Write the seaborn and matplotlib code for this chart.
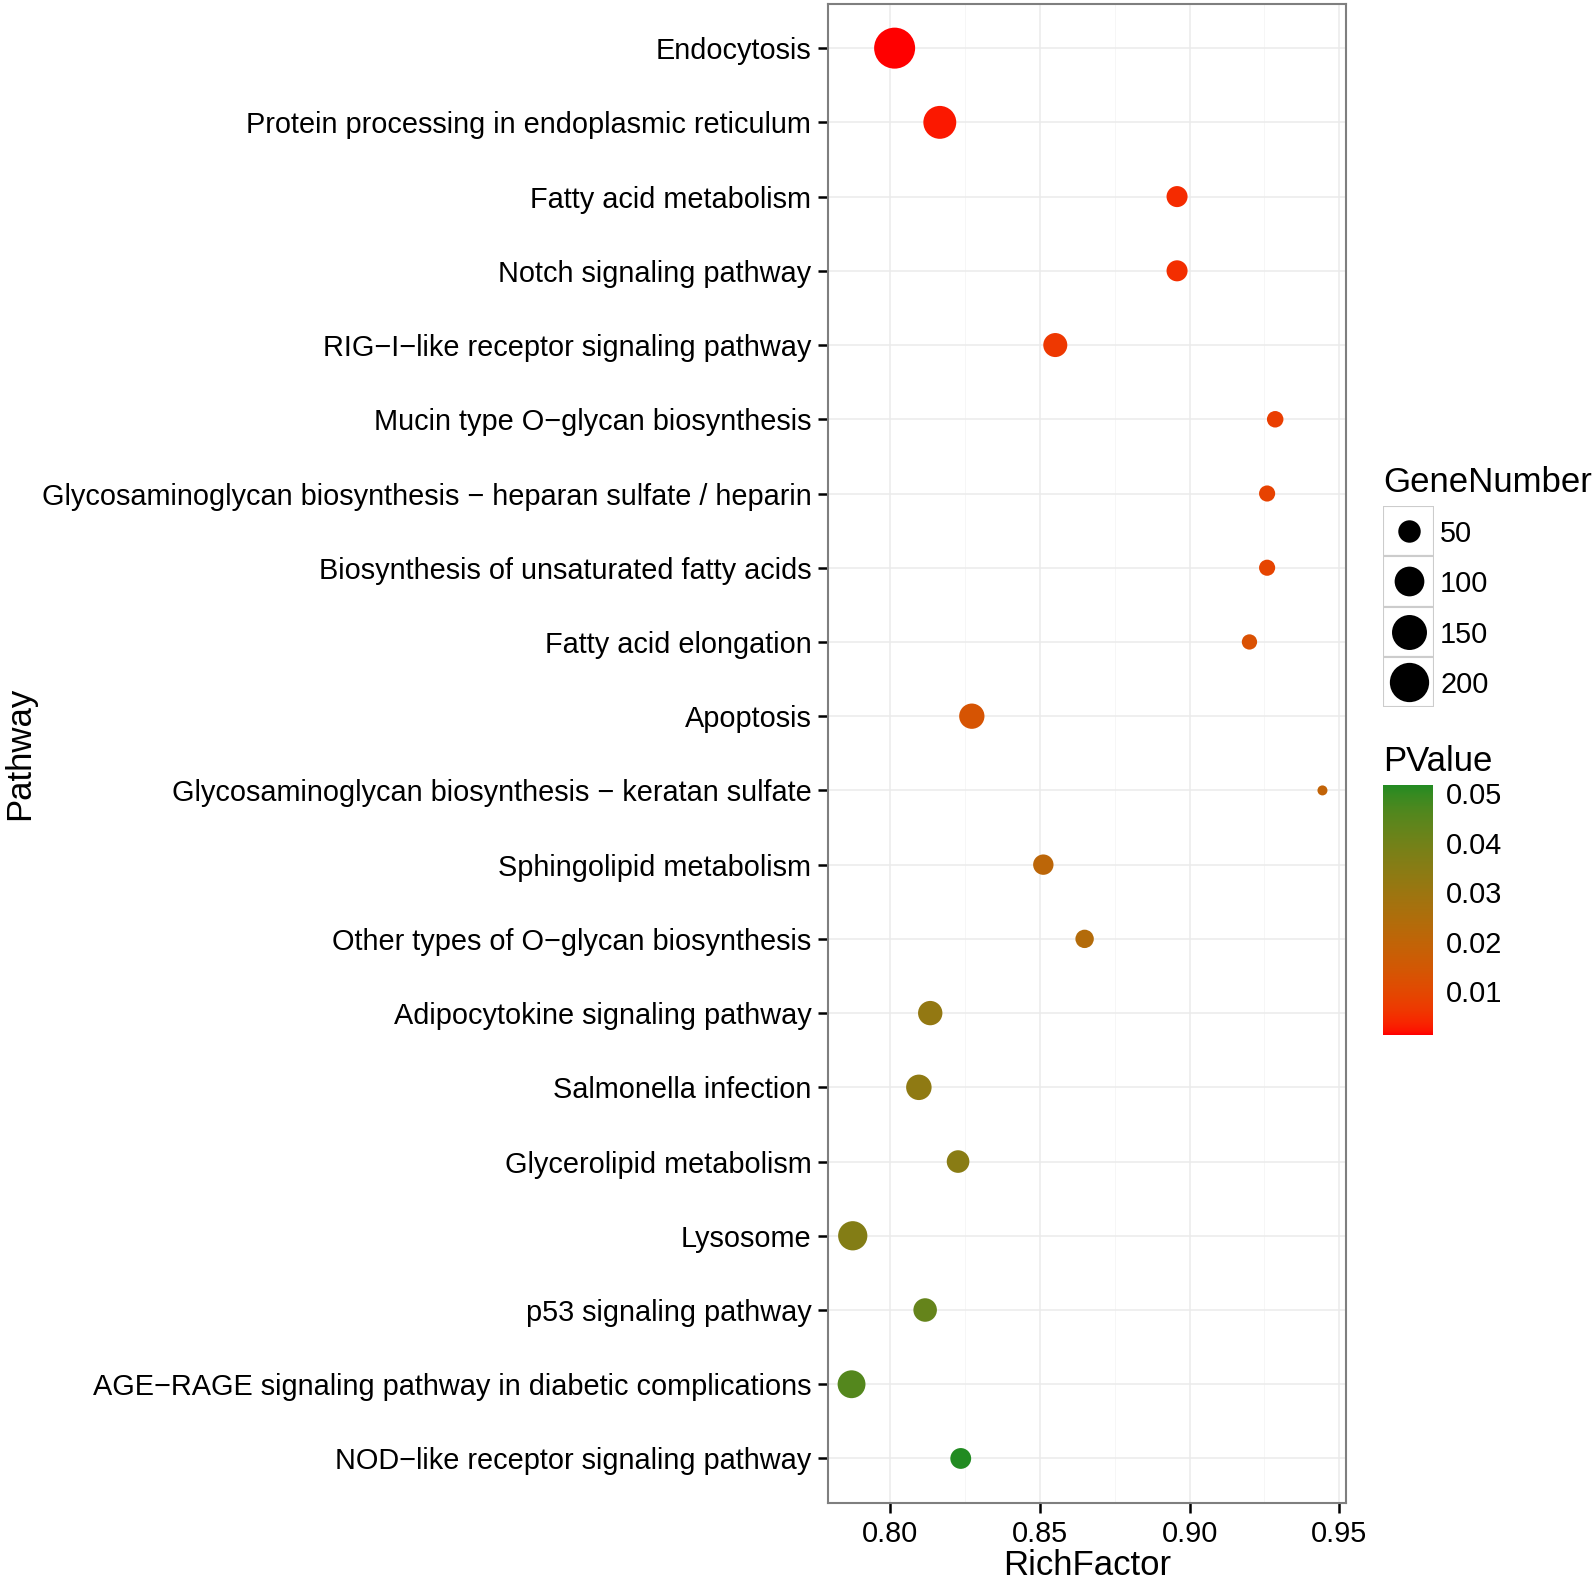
import numpy as np
import pandas as pd
import seaborn as sns
import matplotlib
matplotlib.use("Agg")
import matplotlib.pyplot as plt
from matplotlib.colors import ListedColormap, Normalize, to_rgb
from matplotlib.patches import Rectangle
from matplotlib.ticker import FixedLocator, FormatStrFormatter
from matplotlib.cm import ScalarMappable

# --- data (top row first) ---
pathways = [
    "Endocytosis",
    "Protein processing in endoplasmic reticulum",
    "Fatty acid metabolism",
    "Notch signaling pathway",
    "RIG\u2212I\u2212like receptor signaling pathway",
    "Mucin type O\u2212glycan biosynthesis",
    "Glycosaminoglycan biosynthesis \u2212 heparan sulfate / heparin",
    "Biosynthesis of unsaturated fatty acids",
    "Fatty acid elongation",
    "Apoptosis",
    "Glycosaminoglycan biosynthesis \u2212 keratan sulfate",
    "Sphingolipid metabolism",
    "Other types of O\u2212glycan biosynthesis",
    "Adipocytokine signaling pathway",
    "Salmonella infection",
    "Glycerolipid metabolism",
    "Lysosome",
    "p53 signaling pathway",
    "AGE\u2212RAGE signaling pathway in diabetic complications",
    "NOD\u2212like receptor signaling pathway",
]
rich_factor = [0.8014, 0.8165, 0.8958, 0.8958, 0.8551, 0.9286, 0.9259, 0.9259,
               0.9200, 0.8272, 0.9444, 0.8511, 0.8649, 0.8133, 0.8095, 0.8226,
               0.7874, 0.8116, 0.7870, 0.8235]
gene_number = [222, 129, 43, 43, 59, 26, 25, 25, 23, 67, 17, 40, 32, 61, 68, 51,
               96, 56, 85, 42]
p_value = [0.0012, 0.0025, 0.0045, 0.0048, 0.0065, 0.0075, 0.0085, 0.0090,
           0.0125, 0.0135, 0.0195, 0.0210, 0.0235, 0.0320, 0.0330, 0.0345,
           0.0360, 0.0425, 0.0455, 0.0516]
size_breaks = [50, 100, 150, 200]
pvalue_ticks = [0.01, 0.02, 0.03, 0.04, 0.05]

df = pd.DataFrame({"Pathway": pathways, "RichFactor": rich_factor,
                   "GeneNumber": gene_number, "PValue": p_value})

DPI = 100


# --- red -> green gradient interpolated in Lab (like ggplot) ---
def rgb_to_lab(c):
    c = np.asarray(c, float)
    lin = np.where(c <= 0.04045, c / 12.92, ((c + 0.055) / 1.055) ** 2.4)
    M = np.array([[0.4124, 0.3576, 0.1805], [0.2126, 0.7152, 0.0722], [0.0193, 0.1192, 0.9505]])
    xyz = M @ lin / np.array([0.95047, 1.0, 1.08883])
    f = np.where(xyz > 0.008856, np.cbrt(xyz), (903.3 * xyz + 16) / 116)
    return np.array([116 * f[1] - 16, 500 * (f[0] - f[1]), 200 * (f[1] - f[2])])


def lab_to_rgb(lab):
    L, a, b = lab
    fy = (L + 16) / 116
    fx, fz = fy + a / 500, fy - b / 200
    f = np.array([fx, fy, fz])
    xyz = np.where(f ** 3 > 0.008856, f ** 3, (116 * f - 16) / 903.3) * np.array([0.95047, 1.0, 1.08883])
    Minv = np.array([[3.2406, -1.5372, -0.4986], [-0.9689, 1.8758, 0.0415], [0.0557, -0.2040, 1.0570]])
    lin = Minv @ xyz
    c = np.where(lin <= 0.0031308, 12.92 * lin, 1.055 * np.clip(lin, 0, None) ** (1 / 2.4) - 0.055)
    return np.clip(c, 0, 1)


low, high = rgb_to_lab(to_rgb("#FF0000")), rgb_to_lab(to_rgb("#228B22"))
cmap = ListedColormap([lab_to_rgb(low + t * (high - low)) for t in np.linspace(0, 1, 256)])
norm = Normalize(min(p_value), max(p_value))

gmin, gmax = min(gene_number), max(gene_number)


def marker_area(n):
    # ggplot-style area scale: diameter 10..41 px
    d_px = 10 + 31 * np.sqrt((n - gmin) / (gmax - gmin))
    return (d_px * 72 / DPI) ** 2


sns.set_theme(style="white")
plt.rcParams['font.family'] = ['Liberation Sans', 'DejaVu Sans']
plt.rcParams['text.color'] = 'black'
plt.rcParams['axes.labelcolor'] = 'black'

fig = plt.figure(figsize=(15.94, 15.81), dpi=DPI)
ax = fig.add_axes([828 / 1594, 78 / 1581, 518 / 1594, 1499.4 / 1581])

sns.scatterplot(data=df, x="RichFactor", y="Pathway", hue="PValue", hue_norm=norm,
                palette=cmap, size="GeneNumber",
                sizes={n: marker_area(n) for n in gene_number},
                linewidth=0, legend=False, ax=ax, zorder=3)

lo, hi = min(rich_factor), max(rich_factor)
pad = 0.05 * (hi - lo)
ax.set_xlim(lo - pad, hi + pad)
ax.set_ylim(len(pathways) - 0.4, -0.6)
ax.xaxis.set_major_locator(FixedLocator([0.80, 0.85, 0.90, 0.95]))
ax.xaxis.set_minor_locator(FixedLocator([0.775, 0.825, 0.875, 0.925]))
ax.xaxis.set_major_formatter(FormatStrFormatter("%.2f"))

ax.grid(which="major", color="#EBEBEB", lw=1.1)
ax.grid(which="minor", axis="x", color="#F5F5F5", lw=0.6)
ax.set_axisbelow(True)
for sp in ax.spines.values():
    sp.set_color("#7F7F7F")
    sp.set_linewidth(1.5)

ax.tick_params(axis="both", which="major", bottom=True, left=True, direction="out",
               length=7, width=1.8, color="black", labelsize=20.8, labelcolor="black")
ax.tick_params(axis="x", which="minor", length=0)
ax.tick_params(axis="y", pad=5)
ax.tick_params(axis="x", pad=5)

ax.set_xlabel("RichFactor", fontsize=25)
ax.set_ylabel("Pathway", fontsize=25)
ax.xaxis.set_label_coords(0.5, -0.031)
ax.yaxis.set_label_coords(-1.529, 0.5)

# --- GeneNumber legend ---
fig.text(1383 / 1594, 1 - 483 / 1581, "GeneNumber", fontsize=25, va="center")
lax = fig.add_axes([1383 / 1594, (1581 - 707) / 1581, 51 / 1594, 201 / 1581])
lax.set_xlim(0, 1)
lax.set_ylim(len(size_breaks), 0)
lax.axis("off")
for i, n in enumerate(size_breaks):
    lax.add_patch(Rectangle((0, i), 1, 1, facecolor="white", edgecolor="#CCCCCC", lw=1.5))
    lax.scatter([0.5], [i + 0.5], s=marker_area(n), color="black", linewidth=0, zorder=3)
    lax.text(1.12, i + 0.56, str(n), fontsize=20.8, va="center", ha="left")

# --- PValue colourbar ---
fig.text(1383 / 1594, 1 - 762 / 1581, "PValue", fontsize=25, va="center")
cax = fig.add_axes([1383 / 1594, (1581 - 1035) / 1581, 50 / 1594, 250 / 1581])
cb = fig.colorbar(ScalarMappable(norm=norm, cmap=cmap), cax=cax, ticks=pvalue_ticks)
cb.outline.set_visible(False)
cb.minorticks_off()
cax.yaxis.set_major_formatter(FormatStrFormatter("%.2f"))
cax.tick_params(axis="y", which="major", direction="in", left=True, right=True,
                labelleft=False, labelright=True, color="white", length=10,
                width=1.2, labelsize=20.8, labelcolor="black", pad=9)

fig.savefig("out.png", dpi=DPI)
